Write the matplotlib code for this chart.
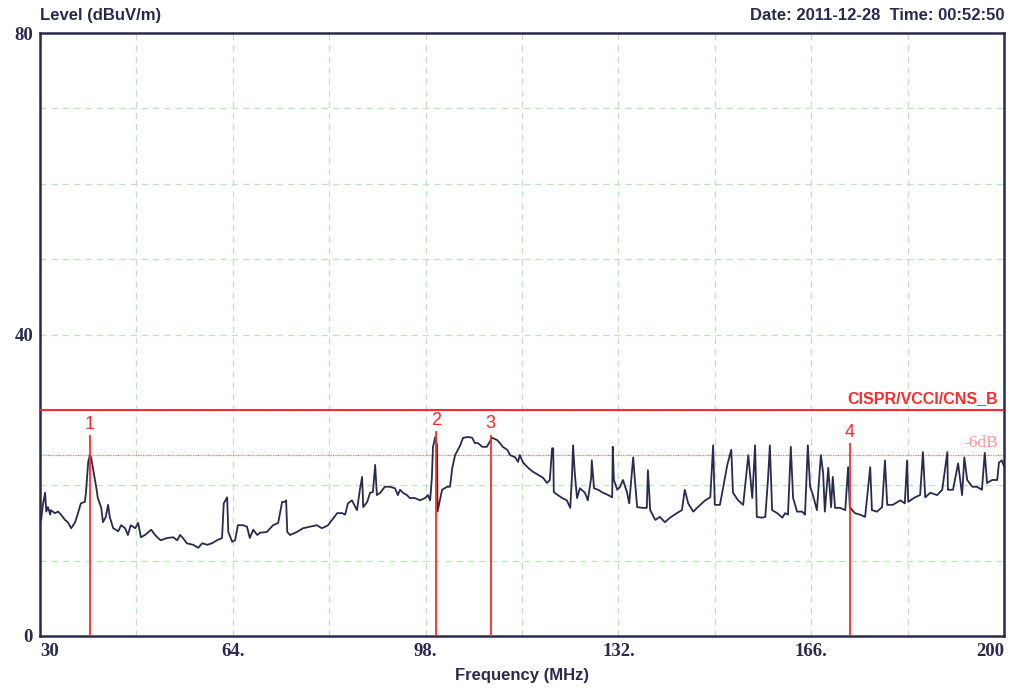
import matplotlib.pyplot as plt

# spectrum trace (MHz, dBuV/m)
freq = [30.0, 30.2, 30.5, 30.9, 31.1, 31.4, 31.8, 31.9, 32.6, 33.2, 33.7, 34.4, 34.9, 35.5, 36.2,
        36.7, 37.2, 37.9, 38.1, 38.5, 38.8, 39.0, 39.3, 39.9, 40.2, 40.8, 41.1, 41.6, 42.0, 42.3,
        42.9, 43.8, 44.3, 45.0, 45.5, 46.0, 46.8, 47.3, 47.8, 48.5, 49.0, 49.6, 50.3, 50.8, 51.3,
        52.4, 53.5, 54.2, 54.7, 55.2, 55.9, 57.0, 57.9, 58.6, 59.5, 60.3, 61.2, 62.1, 62.4, 63.0,
        63.2, 63.9, 64.4, 64.9, 65.8, 66.5, 67.0, 67.6, 68.3, 68.8, 70.0, 71.1, 72.0, 72.7, 73.2,
        73.4, 73.6, 74.1, 75.3, 76.4, 77.6, 78.8, 79.7, 80.3, 80.8, 81.5, 82.4, 83.3, 83.8, 84.3,
        85.0, 85.9, 86.4, 86.8, 87.0, 87.7, 88.2, 88.7, 89.1, 89.4, 90.0, 90.8, 91.7, 92.6, 93.1,
        93.5, 94.0, 94.7, 95.2, 96.1, 97.0, 97.9, 98.4, 98.8, 99.1, 99.3, 99.7, 100.0, 100.1, 100.4,
        100.9, 101.8, 102.3, 102.7, 103.2, 104.1, 104.6, 105.5, 106.2, 106.7, 107.2, 108.0, 108.8, 109.7, 110.6,
        111.1, 111.6, 112.4, 112.9, 113.8, 114.3, 114.6, 115.2, 116.1, 116.9, 117.8, 118.7, 119.4, 119.9, 120.3,
        120.5, 120.6, 121.3, 122.1, 122.9, 123.5, 123.8, 124.0, 124.3, 124.7, 125.2, 126.1, 126.6, 127.2, 127.3,
        127.7, 128.4, 129.3, 130.2, 130.9, 131.0, 131.2, 131.8, 132.3, 132.8, 133.5, 133.9, 134.6, 134.9, 135.3,
        136.2, 137.0, 137.2, 137.6, 138.5, 139.3, 140.2, 141.1, 142.3, 143.2, 143.7, 144.3, 145.2, 146.0, 147.3,
        148.2, 148.7, 149.0, 149.9, 151.2, 151.9, 152.2, 153.1, 154.0, 154.9, 155.6, 156.1, 156.4, 157.3, 157.9,
        158.4, 158.7, 159.1, 160.0, 160.9, 161.4, 161.9, 162.4, 162.8, 163.5, 164.4, 164.9, 165.4, 165.8, 166.3,
        167.0, 167.7, 168.1, 168.4, 169.0, 169.5, 169.8, 170.2, 171.1, 172.0, 172.5, 172.8, 173.7, 174.6, 175.5,
        176.4, 176.7, 177.6, 178.5, 179.0, 179.4, 180.4, 181.7, 182.5, 182.9, 183.1, 184.3, 185.2, 185.7, 186.1,
        187.0, 188.2, 189.1, 190.0, 190.1, 191.0, 191.9, 192.2, 192.6, 193.0, 193.5, 194.4, 195.2, 196.1, 196.6,
        197.0, 197.9, 198.8, 199.1, 199.6, 200.0]
level = [15.4, 15.4, 17.4, 19.0, 16.5, 17.1, 16.1, 16.7, 16.3, 16.5, 16.1, 15.4, 15.1, 14.3, 15.1,
         16.3, 17.6, 17.8, 19.0, 23.1, 24.0, 23.7, 22.4, 19.8, 18.3, 17.0, 15.1, 15.8, 17.4, 15.8,
         14.3, 13.9, 14.7, 14.3, 13.4, 14.7, 14.3, 15.0, 13.1, 13.4, 13.7, 14.1, 13.4, 13.0, 12.7,
         13.0, 13.1, 12.7, 13.4, 13.0, 12.3, 12.1, 11.7, 12.3, 12.1, 12.3, 12.7, 13.0, 17.6, 18.4,
         13.8, 12.5, 12.7, 14.7, 14.7, 14.5, 13.0, 14.1, 13.4, 13.7, 13.8, 14.7, 15.0, 17.8, 17.8,
         18.0, 13.8, 13.4, 13.8, 14.3, 14.5, 14.7, 14.3, 14.5, 14.7, 15.4, 16.3, 16.3, 16.1, 17.6,
         18.0, 16.7, 19.4, 21.1, 17.1, 17.8, 19.0, 19.1, 22.7, 18.7, 19.0, 19.8, 19.8, 19.6, 18.7,
         19.4, 19.0, 18.7, 18.3, 18.3, 18.0, 18.3, 18.7, 18.0, 21.0, 25.1, 26.4, 25.3, 16.5, 17.6,
         19.4, 19.8, 19.8, 22.3, 24.0, 25.3, 26.3, 26.4, 26.3, 25.6, 25.6, 25.1, 25.1, 26.3, 26.0,
         25.6, 25.1, 24.7, 24.0, 23.7, 23.1, 24.0, 23.0, 22.3, 21.8, 21.4, 21.0, 20.3, 20.7, 24.9,
         24.9, 19.1, 18.7, 18.3, 18.0, 17.0, 21.1, 25.3, 21.6, 18.3, 19.6, 19.0, 18.0, 21.0, 23.3,
         19.6, 19.4, 19.0, 18.7, 18.4, 25.1, 20.7, 19.4, 19.8, 20.7, 19.1, 17.6, 23.7, 20.7, 17.1,
         17.0, 17.0, 22.0, 16.7, 15.4, 15.8, 15.1, 15.7, 16.3, 16.7, 19.4, 17.6, 16.5, 17.1, 18.0,
         18.4, 25.3, 17.4, 17.4, 22.7, 24.7, 19.0, 18.0, 17.4, 24.0, 18.3, 25.3, 15.8, 15.7, 15.8,
         21.1, 25.3, 16.7, 16.3, 15.7, 16.3, 16.1, 25.1, 18.3, 16.5, 16.5, 16.1, 25.3, 19.8, 18.7,
         16.7, 24.0, 21.6, 16.5, 22.3, 17.1, 21.1, 17.0, 17.0, 16.7, 22.4, 17.1, 16.3, 16.1, 15.8,
         22.4, 16.7, 16.5, 17.1, 23.3, 17.4, 17.4, 18.0, 17.6, 23.3, 17.8, 18.4, 18.7, 24.4, 18.4,
         19.0, 18.7, 19.4, 24.4, 19.4, 19.4, 22.9, 21.1, 18.7, 23.7, 20.7, 19.8, 19.8, 19.4, 24.3,
         20.3, 20.7, 20.7, 23.0, 23.3, 22.5]

limit_level = 30.0
margin_level = 24.0
marker_freq = [38.8, 99.8, 109.5, 172.8]
marker_level = [26.5, 27.0, 26.6, 25.5]
marker_name = ['1', '2', '3', '4']

xticks = [30, 64, 98, 132, 166, 200]
xtick_labels = ['30', '64.', '98.', '132.', '166.', '200']
yticks = [0, 40, 80]

navy = '#2a2a4e'
red = '#ff2a2a'

fig = plt.figure(figsize=(10.26, 6.91), dpi=100)
ax = fig.add_axes([0.039, 0.0796, 0.9396, 0.8726])

# grid every 17 MHz / 10 dB
for f in range(30, 201, 17):
    ax.axvline(f, color='#bfe3bf', linestyle=(0, (5, 4)), linewidth=0.9, zorder=1)
for l in range(10, 80, 10):
    ax.axhline(l, color='#bfe3bf', linestyle=(0, (5, 4)), linewidth=0.9, zorder=1)

ax.plot(freq, level, color=navy, linewidth=1.3, zorder=3)

ax.axhline(limit_level, color=red, linewidth=1.5, zorder=4)
ax.axhline(margin_level, color='#ff7070', linestyle=(0, (1, 1)), linewidth=0.9, zorder=2)
ax.text(199, limit_level + 0.5, 'CISPR/VCCI/CNS_B', color=red, fontsize=11.5, fontweight='bold',
        family='Liberation Sans', ha='right', va='bottom')
ax.text(199, margin_level + 0.5, '-6dB', color='#ff9a9a', fontsize=12.5,
        family='Liberation Serif', ha='right', va='bottom')

for f, l, n in zip(marker_freq, marker_level, marker_name):
    ax.plot([f, f], [0, l], color=red, linewidth=1.3, zorder=4)
    ax.text(f, l + 0.4, n, color=red, fontsize=13, ha='center', va='bottom',
            family='Liberation Sans')

ax.set_xlim(30, 200)
ax.set_ylim(0, 80)
ax.set_xticks(xticks)
ax.set_xticklabels(xtick_labels)
ax.set_yticks(yticks)
ax.tick_params(length=0, labelsize=13.5, colors=navy, pad=5)
for t in ax.get_xticklabels() + ax.get_yticklabels():
    t.set_family('Liberation Serif')
    t.set_fontweight('bold')
xl = ax.get_xticklabels()
xl[0].set_ha('left')
xl[-1].set_ha('right')
for s in ax.spines.values():
    s.set_color(navy)
    s.set_linewidth(1.8)

ax.set_xlabel('Frequency (MHz)', fontsize=12, fontweight='bold', color=navy,
              family='Liberation Sans', labelpad=6)
fig.text(0.039, 0.978, 'Level (dBuV/m)', fontsize=12, fontweight='bold', color=navy,
         family='Liberation Sans', ha='left', va='center')
fig.text(0.9786, 0.978, 'Date: 2011-12-28  Time: 00:52:50', fontsize=12, fontweight='bold',
         color=navy, family='Liberation Sans', ha='right', va='center')

fig.savefig('out.png', dpi=100)
